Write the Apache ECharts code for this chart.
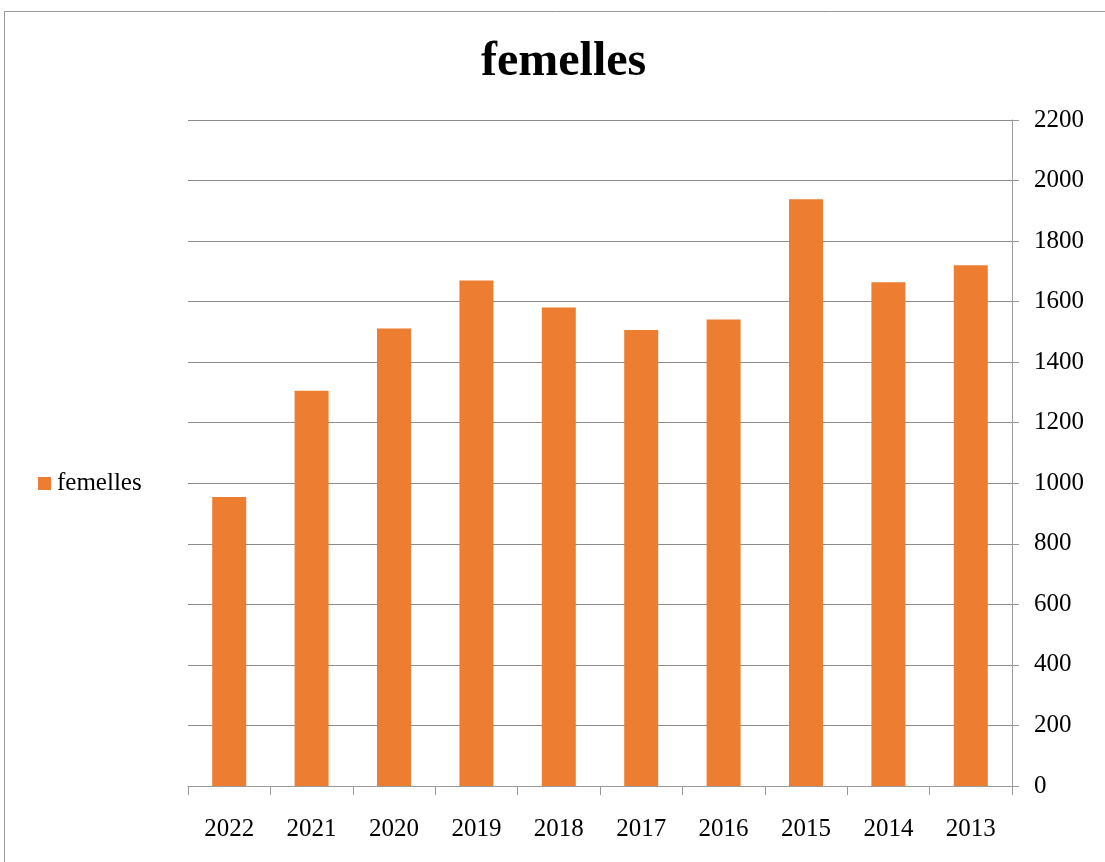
<!DOCTYPE html>
<html><head><meta charset="utf-8">
<script src="https://cdn.jsdelivr.net/npm/echarts@6/dist/echarts.min.js"></script>
<style>html,body{margin:0;padding:0;background:#fff}#c{width:1105px;height:862px}</style>
</head><body><div id="c"></div>
<script>
const categories = ['2022','2021','2020','2019','2018','2017','2016','2015','2014','2013'];
const femelles = [955, 1306, 1511, 1670, 1581, 1506, 1541, 1938, 1664, 1720];
const seriesName = 'femelles';
const titleText = 'femelles';
const yMin = 0, yMax = 2200, yStep = 200;

const FONT = '"Liberation Serif", "Times New Roman", serif';
const chart = echarts.init(document.getElementById('c'), null, {renderer:'canvas'});
chart.setOption({
  backgroundColor: '#fff',
  animation: false,
  graphic: [{
    type: 'rect', shape: {x: 4.5, y: 11.5, width: 1200, height: 1000},
    style: {fill: 'none', stroke: '#999', lineWidth: 1}, silent: true
  }],
  title: {
    text: titleText, left: 476, top: 34,
    textStyle: {fontFamily: FONT, fontSize: 48, fontWeight: 'bold', color: '#000'}
  },
  legend: {
    data: [seriesName], orient: 'vertical', left: 33, top: 466,
    icon: 'rect', itemWidth: 13, itemHeight: 13, itemGap: 5,
    textStyle: {fontFamily: FONT, fontSize: 25, color: '#000', padding: [0,0,0,1]}
  },
  grid: {left: 188, right: 93, top: 120, bottom: 76, containLabel: false},
  xAxis: {
    type: 'category', data: categories,
    axisLine: {lineStyle: {color: '#999', width: 1}},
    axisTick: {show: true, alignWithLabel: false, length: 9, lineStyle: {color: '#999'}},
    axisLabel: {fontFamily: FONT, fontSize: 25, color: '#000', margin: 31}
  },
  yAxis: {
    type: 'value', position: 'right', min: yMin, max: yMax, interval: yStep,
    axisLine: {show: true, lineStyle: {color: '#999', width: 1}},
    axisTick: {show: true, length: 7, lineStyle: {color: '#999'}},
    axisLabel: {fontFamily: FONT, fontSize: 25, color: '#000', margin: 22,
      formatter: v => String(v)},
    splitLine: {show: true, lineStyle: {color: '#8c8c8c', width: 1}}
  },
  series: [{
    name: seriesName, type: 'bar', data: femelles,
    barWidth: 34,
    itemStyle: {color: '#ED7D31'}
  }]
});
</script></body></html>
